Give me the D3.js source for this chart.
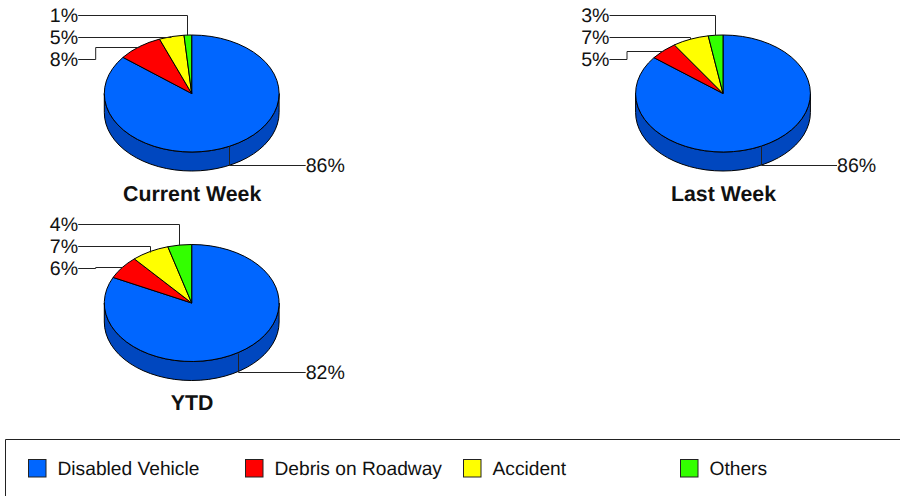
<!DOCTYPE html>
<html>
<head>
<meta charset="utf-8">
<script src="https://cdn.jsdelivr.net/npm/d3@7"></script>
<style>
    html, body { margin: 0; padding: 0; background: #fff; overflow: hidden; }
    svg { display: block; }
    text { font-family: "Liberation Sans", Arial, sans-serif; fill: #111; text-rendering: geometricPrecision; }
</style>
</head>
<body>
<svg id="chart" width="900" height="496"></svg>
<script>
const categories = ["Disabled Vehicle", "Debris on Roadway", "Accident", "Others"];
const colors = ["#0066ff", "#ff0000", "#ffff00", "#33ff00"];
const sideColor = "#0047bf";

// shares, the labels round them
const chartTitles = ["Current Week", "Last Week", "YTD"];
const currentWeek = [85.6, 8.4, 4.6, 1.4];
const lastWeek = [85.5, 5.1, 6.7, 2.7];
const ytd = [82.2, 6.4, 7.0, 4.4];

const svg = d3.select("#chart");

const rx = 87.4;
const ry = 58.5;
const depth = 19;
const labelRows = [16, 38, 60]; // offset of small slice labels from top of chart, others/accident/debris

const pie = d3.pie().sort(null).startAngle(0).endAngle(2 * Math.PI);
const arc = d3.arc().innerRadius(0).outerRadius(rx);
const rimArc = d3.arc().innerRadius(rx).outerRadius(rx);
const yScale = ry / rx;

function drawPie(title, values, cx, cy, top) {
    let g = svg.append("g").attr("transform", `translate(${cx},${cy})`);
    let slices = pie(values);

    //wall first, top goes over it
    g.append("path")
        .attr("d", `M${-rx},0 A${rx},${ry} 0 0 0 ${rx},0 L${rx},${depth} A${rx},${ry} 0 0 1 ${-rx},${depth} Z`)
        .attr("fill", sideColor)
        .attr("stroke", "#000")
        .attr("stroke-width", 1);

    g.append("g")
        .attr("transform", `scale(1,${yScale})`)
        .selectAll("path")
        .data(slices)
        .enter()
        .append("path")
        .attr("d", arc)
        .attr("fill", (d, i) => colors[i])
        .attr("stroke", "#000")
        .attr("stroke-width", 1)
        .attr("vector-effect", "non-scaling-stroke");

    let leaders = svg.append("g")
        .attr("fill", "none")
        .attr("stroke", "#222")
        .attr("stroke-width", 1);

    slices.forEach((d, i) => {
        let rim = rimArc.centroid(d);
        let px = Math.floor(cx + rim[0]) + 0.5;
        let py = Math.round(cy + rim[1] * yScale) + 0.5;
        let label = d3.format(".0f")(d.data) + "%";

        if (i == 0) {
            //big slice, the line runs down the wall and out to the right
            leaders.append("path")
                .attr("d", `M${px},${py} V${py + depth} H${cx + 114}`);
            svg.append("text")
                .attr("x", cx + 114)
                .attr("y", py + depth + 6)
                .attr("font-size", 19.6)
                .text(label);
            return;
        }

        let ly = top + labelRows[3 - i] - 0.5;
        let p = d3.path();
        p.moveTo(cx - 113.5, ly);
        if (py < ly) {
            p.lineTo(cx - 96, ly);
            p.lineTo(cx - 96, py);
            p.lineTo(px, py);
        } else {
            p.lineTo(px, ly);
            p.lineTo(px, py);
        }
        leaders.append("path").attr("d", p.toString());

        svg.append("text")
            .attr("x", cx - 113.5)
            .attr("y", ly + 6.5)
            .attr("text-anchor", "end")
            .attr("font-size", 19.6)
            .text(label);
    });

    svg.append("text")
        .attr("x", cx + 0.5)
        .attr("y", cy + 107)
        .attr("text-anchor", "middle")
        .attr("font-size", 21.33)
        .attr("font-weight", "bold")
        .text(title);
}

drawPie(chartTitles[0], currentWeek, 191.7, 93.5, 0);
drawPie(chartTitles[1], lastWeek, 723, 93.5, 0);
drawPie(chartTitles[2], ytd, 191.7, 303, 209);

//legend box is open on the right and cut by the bottom of the page
svg.append("path")
    .attr("d", "M5.5,496 V439.5 H900")
    .attr("fill", "none")
    .attr("stroke", "#222")
    .attr("stroke-width", 1);

const legendX = d3.scaleOrdinal().domain(categories).range([28, 245, 463, 680]);

let legend = svg.selectAll(".legend")
    .data(categories)
    .enter()
    .append("g")
    .attr("class", "legend")
    .attr("transform", d => `translate(${legendX(d)},459)`);

legend.append("rect")
    .attr("x", 0.5)
    .attr("y", 0.5)
    .attr("width", 17.5)
    .attr("height", 17.5)
    .attr("fill", (d, i) => colors[i])
    .attr("stroke", "#222");

legend.append("text")
    .attr("x", 29.5)
    .attr("y", 15.5)
    .attr("font-size", 19.2)
    .text(d => d);
</script>
</body>
</html>
